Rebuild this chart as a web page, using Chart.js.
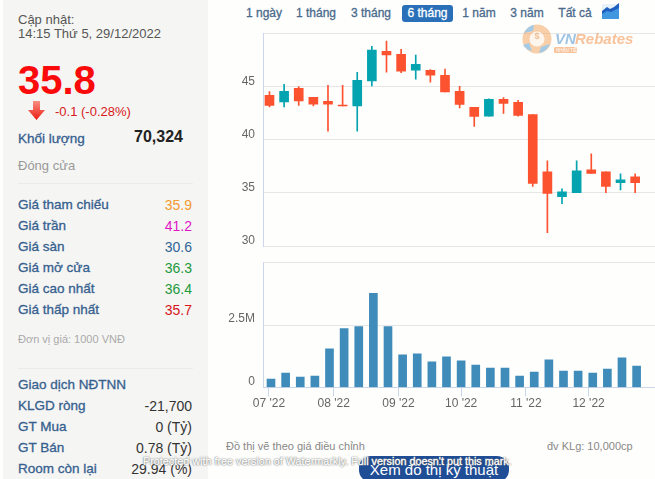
<!DOCTYPE html>
<html lang="vi">
<head>
<meta charset="utf-8">
<title>Đồ thị giá</title>
<script src="https://cdn.jsdelivr.net/npm/chart.js@4/dist/chart.umd.min.js"></script>
<style>
  html, body { margin: 0; padding: 0; }
  body { width: 655px; height: 479px; overflow: hidden; position: relative; background: #fefefc;
         font-family: "Liberation Sans", Arial, sans-serif; color: #333; }
  #side { position: absolute; left: 3px; top: 0; width: 205px; height: 479px; background: #f5f5f3; }
  .t { position: absolute; white-space: nowrap; line-height: 16px; }
  .lbl { left: 18px; font-size: 13.500px; color: #35608f; -webkit-text-stroke: .3px #35608f; }
  .val { right: 463px; font-size: 14px; }
  .rule { position: absolute; left: 18px; width: 175px; height: 1px; background: #ebebe9; }
  .btn { position: absolute; top: 5px; height: 17px; line-height: 17px; font-size: 12px;
         color: #4a6a8c; -webkit-text-stroke: .3px #4a6a8c; text-align: center; white-space: nowrap; }
  .btn.on { background: #2a70b8; color: #fff; -webkit-text-stroke: .3px #fff; border-radius: 3px; }
  canvas { position: absolute; }
  #logo { position: absolute; left: 521px; top: 24px; width: 112px; height: 32px; opacity: .55; }
  #mark { position: absolute; left: 143px; top: 455px; font-size: 10.800px; color: #fff; white-space: nowrap;
          -webkit-text-stroke: .3px #fff; text-shadow: 0 0 2px #555, 0 0 1px #555; z-index: 5; }
  #tech { position: absolute; left: 359px; top: 456px; width: 150px; height: 26px; background: #1f4e96;
          border-radius: 12px; color: #fff; font-size: 15px; line-height: 27px; text-align: center; white-space: nowrap; }
</style>
</head>
<body>
<div id="side"></div>
<div class="t" style="left:18px;top:12px;font-size:13px;color:#555">Cập nhật:</div>
<div class="t" style="left:18px;top:26px;font-size:13px;color:#555">14:15 Thứ 5, 29/12/2022</div>
<div class="t" style="left:18px;top:58px;font-size:40px;line-height:44px;font-weight:bold;color:#fa0a0a">35.8</div>
<svg style="position:absolute;left:28px;top:101px" width="17" height="20" viewBox="0 0 17 20">
  <defs><linearGradient id="ar" x1="0" y1="0" x2="0" y2="1"><stop offset="0" stop-color="#f78f80"/><stop offset="1" stop-color="#ee1c12"/></linearGradient></defs>
  <path d="M5 0h7v9h5l-8.500 10L0 9h5z" fill="url(#ar)"/>
</svg>
<div class="t" style="left:55px;top:104px;font-size:13px;color:#d7191c">-0.1 (-0.28%)</div>
<div class="t lbl" style="top:131px">Khối lượng</div>
<div class="t" style="right:472px;top:129px;font-size:16px;font-weight:bold;color:#222">70,324</div>
<div class="t" style="left:18px;top:158px;font-size:13px;color:#999">Đóng cửa</div>
<div class="rule" style="top:183px"></div>
<div id="rows"></div>
<div class="t" style="left:18px;top:331px;font-size:11px;color:#aaa">Đơn vị giá: 1000 VNĐ</div>
<div class="rule" style="top:368px"></div>
<div id="rows2"></div>

<div class="btn" style="left:241px;width:46px">1 ngày</div>
<div class="btn" style="left:291px;width:50px">1 tháng</div>
<div class="btn" style="left:346px;width:50px">3 tháng</div>
<div class="btn on" style="left:402px;width:51px">6 tháng</div>
<div class="btn" style="left:457px;width:44px">1 năm</div>
<div class="btn" style="left:505px;width:44px">3 năm</div>
<div class="btn" style="left:553px;width:44px">Tất cả</div>
<svg style="position:absolute;left:602px;top:3px" width="17" height="16" viewBox="0 0 17 16">
  <rect x="0" y="1" width="17" height="15" fill="#e8f1f8"/>
  <path d="M0 8l5-4 3 2 4-2 5-4v14H0z" fill="#1e5fc0"/>
  <path d="M0 11l5-3 4 1 8-4v11H0z" fill="#3f97e0"/>
</svg>

<canvas id="priceChart" width="440" height="230" style="left:215px;top:25px;width:440px;height:230px"></canvas>
<canvas id="volChart" width="440" height="160" style="left:215px;top:255px;width:440px;height:160px"></canvas>

<svg id="logo" viewBox="0 0 112 32">
  <circle cx="16" cy="15" r="14.500" fill="#f4a866"/>
  <path d="M3 9a14.500 14.500 0 0 1 10-8l-1 6zM29 20a14.500 14.500 0 0 1-11 9l2-6zM2 21l6-2 3 8a14 14 0 0 1-9-6z" fill="#5a9fd4"/>
  <circle cx="16" cy="15" r="7.500" fill="#fdeee0"/>
  <text x="16" y="15" text-anchor="middle" font-family="Liberation Sans" font-size="9" font-weight="bold" fill="#e08a3c">$</text>
  <text x="34" y="20" font-family="Liberation Sans" font-size="15" font-weight="bold" font-style="italic" fill="#4f93d2">VN</text>
  <text x="54" y="20" font-family="Liberation Sans" font-size="15" font-weight="bold" font-style="italic" fill="#f2914a">Rebates</text>
  <rect x="33" y="23" width="23" height="6" rx="1.500" fill="#f2914a"/>
  <text x="35" y="28" font-family="Liberation Sans" font-size="4.500" fill="#fff">NHẬN TIỀN</text>
</svg>

<div class="t" style="left:226px;top:438px;font-size:11px;color:#888">Đồ thị vẽ theo giá điều chỉnh</div>
<div class="t" style="left:547px;top:438px;font-size:11px;color:#888">đv KLg: 10,000cp</div>
<div id="tech">Xem đồ thị kỹ thuật</div>
<div id="mark">Protected with free version of Watermarkly. Full version doesn't put this mark.</div>

<script>
const weeks = ['2022-07-02','2022-07-09','2022-07-16','2022-07-23','2022-07-30','2022-08-06','2022-08-13','2022-08-20','2022-08-27',
  '2022-09-03','2022-09-10','2022-09-17','2022-09-24','2022-10-01','2022-10-08','2022-10-15','2022-10-22','2022-10-29',
  '2022-11-05','2022-11-12','2022-11-19','2022-11-26','2022-12-03','2022-12-10','2022-12-17','2022-12-24'];
const opens = [44.18,43.55,44.84,43.99,43.62,43.24,43.18,45.53,48.33,48.05,46.54,46.54,46.07,44.56,43.05,42.23,43.8,43.52,42.36,36.98,34.65,35.03,37.17,36.98,35.97,36.51];
const highs = [44.53,45.22,45.0,44.0,45.13,45.13,46.35,48.8,49.28,48.52,47.96,46.6,46.64,45.03,43.05,43.85,43.96,43.71,42.36,38.02,35.38,38.02,38.68,36.98,36.79,36.79];
const lows = [43.08,43.08,43.24,43.18,40.81,43.18,40.81,45.06,46.35,46.32,45.69,45.41,44.5,42.99,41.26,42.23,42.48,42.23,35.6,31.26,33.99,35.03,36.82,35.03,35.28,35.03];
const closes = [43.24,44.56,43.65,43.36,43.36,43.18,45.6,48.43,47.99,46.45,47.1,46.07,44.5,43.33,42.2,43.8,43.43,42.3,35.88,34.94,35.09,37.08,36.82,35.6,36.23,35.97];
const volumes = [336000,578000,417000,457000,1546000,2352000,2433000,3763000,2433000,1304000,1344000,1022000,1223000,1062000,900000,780000,780000,457000,618000,1102000,659000,659000,578000,739000,1183000,860000];
const monthTicks = ['2022-07-01','2022-08-01','2022-09-01','2022-10-01','2022-11-01','2022-12-01'];
const monthLabels = ["07 '22","08 '22","09 '22","10 '22","11 '22","12 '22"];
const priceTicks = [30,35,40,45];
const priceRows = [['Giá tham chiếu','35.9','#f29b30'],['Giá trần','41.2','#e015c5'],['Giá sàn','30.6','#2f6496'],['Giá mở cửa','36.3','#1d9a3c'],['Giá cao nhất','36.4','#1d9a3c'],['Giá thấp nhất','35.7','#d8141c']];
const foreignRows = [['Giao dịch NĐTNN',''],['KLGD ròng','-21,700'],['GT Mua','0 (Tỷ)'],['GT Bán','0.78 (Tỷ)'],['Room còn lại','29.94 (%)']];

const RED = '#fd5230', TEAL = '#03a4b0', BLUE = '#3f8cba';
const DAY = 86400000;

function addRow(box, top, label, value, color) {
  box.insertAdjacentHTML('beforeend',
    `<div class="t lbl" style="top:${top}px">${label}</div><div class="t val" style="top:${top}px;color:${color}">${value}</div>`);
}
priceRows.forEach((r, i) => addRow(document.getElementById('rows'), 197 + i * 21, r[0], r[1], r[2]));
foreignRows.forEach((r, i) => addRow(document.getElementById('rows2'), 377 + i * 21, r[0], r[1], '#333'));

const xs = weeks.map(d => Date.parse(d));
const candleColors = closes.map((c, i) => c < opens[i] ? RED : TEAL);
const tickFont = { family: '"Liberation Sans", Arial, sans-serif', size: 12 };

function yFit(s) { s.width = 48; s.paddingTop = 0; s.paddingBottom = 0; }

new Chart(document.getElementById('priceChart'), {
  type: 'bar',
  data: {
    datasets: [
      { data: xs.map((x, i) => ({ x, y: [opens[i], closes[i]] })), backgroundColor: candleColors, barThickness: 9, grouped: false, minBarLength: 1 },
      { data: xs.map((x, i) => ({ x, y: [lows[i], highs[i]] })), backgroundColor: candleColors, barThickness: 1, grouped: false },
    ],
  },
  options: {
    responsive: false,
    animation: false,
    layout: { padding: { top: 8.5, bottom: 9, left: 0, right: 0 } },
    plugins: { legend: { display: false }, tooltip: { enabled: false } },
    scales: {
      x: { type: 'linear', offset: false, display: false, min: xs[0] - 3.1 * DAY, max: xs[0] + 184.5 * DAY },
      y: {
        min: 30, max: 50,
        afterFit: yFit,
        afterBuildTicks: s => { s.ticks = priceTicks.concat(50).map(value => ({ value })); },
        grid: { color: '#e6e6e6', drawTicks: false },
        border: { color: '#ccd6eb' },
        ticks: { font: tickFont, color: '#666', padding: 8, labelOffset: -5, callback: v => priceTicks.includes(v) ? String(v) : '' },
      },
    },
  },
});

new Chart(document.getElementById('volChart'), {
  type: 'bar',
  data: {
    datasets: [{ data: xs.map((x, i) => ({ x, y: volumes[i] })), backgroundColor: BLUE, barThickness: 8 }],
  },
  options: {
    responsive: false,
    animation: false,
    layout: { padding: { top: 7.5, left: 0, right: 0, bottom: 0 } },
    plugins: { legend: { display: false }, tooltip: { enabled: false } },
    scales: {
      x: {
        type: 'linear',
        offset: false,
        min: xs[0] - 3.83 * DAY, max: xs[0] + 183.8 * DAY,
        afterBuildTicks: s => { s.ticks = monthTicks.map(d => ({ value: Date.parse(d) })); },
        afterFit: s => { s.height = 27.5; },
        grid: { offset: false, drawOnChartArea: false, color: '#ccd6eb', tickLength: 9 },
        border: { color: '#ccd6eb' },
        ticks: { font: tickFont, color: '#666', padding: 0, maxRotation: 0, autoSkip: false, callback: (v, i) => monthLabels[i] },
      },
      y: {
        min: 0, max: 5000000,
        afterFit: yFit,
        afterBuildTicks: s => { s.ticks = [0, 2500000, 5000000].map(value => ({ value })); },
        grid: { color: '#e6e6e6', drawTicks: false },
        border: { color: '#ccd6eb' },
        ticks: { font: tickFont, color: '#666', padding: 8, labelOffset: -6, callback: v => v === 0 ? '0' : v === 2500000 ? '2.5M' : '' },
      },
    },
  },
});
</script>
</body>
</html>
